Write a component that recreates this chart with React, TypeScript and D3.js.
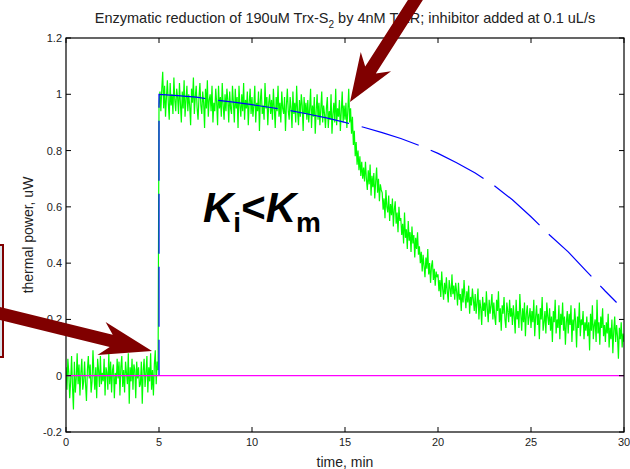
import React from 'react';
import * as d3 from 'd3';

// ---------- data ----------
const xTicks = [0, 5, 10, 15, 20, 25, 30];
const xTickLabels = ['0', '5', '10', '15', '20', '25', '30'];
const yTicks = [-0.2, 0, 0.2, 0.4, 0.6, 0.8, 1, 1.2];
const yTickLabels = ['-0.2', '0', '0.2', '0.4', '0.6', '0.8', '1', '1.2'];

// measured thermal power (uW), sampled every 0.05 min from t = 0
const sampleStep = 0.05;
const measuredPower = [
  // 0 - 1 min
  0.03, -0.05, 0.06, 0.01, -0.08, -0.02, 0.07, -0.04, -0.12, 0.05,
  -0.06, -0.01, 0.08, -0.03, 0.04, -0.07, 0.01, 0.06, -0.05, -0.02,
  // 1 - 2
  0.05, -0.03, -0.09, 0.02, 0.07, -0.01, 0.04, -0.06, -0.02, 0.09,
  0.01, -0.05, 0.03, -0.08, 0.06, 0.02, -0.04, 0.07, -0.03, 0.01,
  // 2 - 3
  -0.02, 0.06, -0.07, 0.03, 0.01, -0.05, 0.08, -0.03, 0.05, -0.06,
  0.02, 0.04, -0.08, 0.01, -0.03, 0.06, -0.01, 0.05, -0.07, 0.03,
  // 3 - 4
  0.07, -0.04, 0.02, -0.06, 0.05, 0.01, -0.03, 0.08, -0.10, 0.03,
  -0.02, 0.06, -0.05, 0.04, 0.02, -0.08, 0.05, -0.01, 0.03, -0.04,
  // 4 - 5
  -0.03, 0.05, -0.10, 0.02, 0.06, -0.04, 0.01, 0.07, -0.06, 0.03,
  -0.02, 0.08, -0.05, 0.02, -0.07, 0.04, 0.09, -0.03, 0.05, 0.02,
  // 5 - 6
  0.96, 1.01, 0.94, 1.02, 1.08, 0.95, 1.03, 0.92, 0.99, 1.05,
  0.97, 0.91, 1.04, 0.96, 1.00, 0.93, 1.06, 0.98, 0.94, 1.02,
  // 6 - 7
  0.99, 0.93, 1.04, 0.97, 0.90, 1.01, 0.95, 1.05, 0.92, 0.98,
  1.03, 0.94, 1.00, 0.96, 0.89, 1.02, 0.97, 1.06, 0.93, 0.99,
  // 7 - 8
  1.03, 0.95, 0.91, 0.99, 1.04, 0.96, 0.93, 1.01, 0.97, 0.88,
  1.02, 0.95, 1.05, 0.92, 0.98, 1.00, 0.94, 1.03, 0.90, 0.97,
  // 8 - 9
  0.94, 1.02, 0.97, 0.89, 1.03, 0.95, 0.99, 0.92, 1.04, 0.96,
  0.91, 1.00, 0.94, 1.02, 0.98, 0.90, 1.01, 0.95, 0.93, 1.03,
  // 9 - 10
  0.97, 0.90, 1.02, 0.95, 0.99, 0.88, 1.03, 0.96, 0.92, 1.00,
  0.94, 1.04, 0.91, 0.98, 0.95, 1.01, 0.89, 0.97, 1.02, 0.93,
  // 10 - 11
  0.99, 0.92, 0.96, 1.03, 0.90, 0.97, 0.94, 1.01, 0.87, 0.98,
  1.02, 0.93, 0.96, 0.91, 1.04, 0.95, 0.99, 0.89, 0.97, 1.00,
  // 11 - 12
  0.93, 0.98, 0.91, 1.02, 0.95, 0.88, 0.99, 0.94, 1.03, 0.92,
  0.97, 0.90, 1.01, 0.95, 0.93, 0.99, 0.87, 0.96, 1.02, 0.94,
  // 12 - 13
  0.91, 0.99, 0.95, 0.88, 1.01, 0.93, 0.97, 0.90, 1.03, 0.94,
  0.89, 0.98, 0.92, 1.00, 0.96, 0.87, 0.99, 0.93, 0.97, 0.91,
  // 13 - 14
  0.98, 0.90, 0.95, 1.02, 0.88, 0.96, 0.92, 0.99, 0.86, 0.94,
  1.00, 0.91, 0.97, 0.89, 0.95, 1.01, 0.90, 0.96, 0.93, 0.88,
  // 14 - 15
  0.95, 0.99, 0.88, 0.94, 0.91, 1.00, 0.86, 0.93, 0.97, 0.90,
  1.02, 0.89, 0.95, 0.92, 0.98, 0.87, 0.94, 1.01, 0.90, 0.96,
  // 15 - 16
  0.91, 0.97, 0.88, 0.94, 1.02, 0.90, 0.95, 0.86, 0.92, 0.82,
  0.87, 0.78, 0.83, 0.75, 0.80, 0.73, 0.78, 0.71, 0.76, 0.70,
  // 16 - 17
  0.74, 0.69, 0.76, 0.70, 0.66, 0.73, 0.68, 0.75, 0.64, 0.71,
  0.67, 0.72, 0.63, 0.69, 0.74, 0.65, 0.70, 0.62, 0.68, 0.66,
  // 17 - 18
  0.65, 0.59, 0.63, 0.56, 0.66, 0.60, 0.58, 0.64, 0.55, 0.61,
  0.57, 0.63, 0.53, 0.59, 0.62, 0.54, 0.58, 0.51, 0.60, 0.55,
  // 18 - 19
  0.56, 0.50, 0.54, 0.47, 0.58, 0.49, 0.52, 0.45, 0.55, 0.48,
  0.51, 0.44, 0.53, 0.47, 0.50, 0.42, 0.49, 0.45, 0.51, 0.43,
  // 19 - 20
  0.46, 0.40, 0.44, 0.37, 0.43, 0.39, 0.35, 0.42, 0.38, 0.45,
  0.36, 0.40, 0.33, 0.39, 0.41, 0.34, 0.38, 0.32, 0.37, 0.35,
  // 20 - 21
  0.36, 0.30, 0.34, 0.28, 0.37, 0.31, 0.27, 0.33, 0.29, 0.35,
  0.30, 0.26, 0.34, 0.31, 0.28, 0.36, 0.29, 0.32, 0.27, 0.33,
  // 21 - 22
  0.30, 0.25, 0.33, 0.27, 0.29, 0.23, 0.31, 0.26, 0.34, 0.28,
  0.24, 0.30, 0.26, 0.32, 0.22, 0.28, 0.25, 0.31, 0.27, 0.23,
  // 22 - 23
  0.29, 0.22, 0.26, 0.31, 0.20, 0.27, 0.24, 0.18, 0.28, 0.23,
  0.26, 0.21, 0.30, 0.24, 0.19, 0.27, 0.22, 0.25, 0.29, 0.20,
  // 23 - 24
  0.26, 0.21, 0.18, 0.27, 0.23, 0.30, 0.19, 0.24, 0.16, 0.25,
  0.22, 0.28, 0.20, 0.17, 0.26, 0.23, 0.19, 0.27, 0.21, 0.24,
  // 24 - 25
  0.18, 0.25, 0.21, 0.15, 0.27, 0.20, 0.23, 0.17, 0.29, 0.22,
  0.16, 0.24, 0.19, 0.26, 0.14, 0.22, 0.25, 0.18, 0.21, 0.24,
  // 25 - 26
  0.17, 0.23, 0.19, 0.27, 0.14, 0.21, 0.25, 0.18, 0.22, 0.13,
  0.24, 0.20, 0.28, 0.16, 0.19, 0.23, 0.15, 0.26, 0.21, 0.18,
  // 26 - 27
  0.24, 0.16, 0.21, 0.12, 0.23, 0.19, 0.27, 0.15, 0.20, 0.17,
  0.25, 0.13, 0.22, 0.18, 0.26, 0.16, 0.21, 0.11, 0.19, 0.23,
  // 27 - 28
  0.15, 0.22, 0.18, 0.25, 0.12, 0.20, 0.16, 0.24, 0.19, 0.10,
  0.21, 0.17, 0.26, 0.14, 0.20, 0.18, 0.23, 0.13, 0.19, 0.16,
  // 28 - 29
  0.21, 0.14, 0.19, 0.09, 0.22, 0.16, 0.25, 0.13, 0.18, 0.20,
  0.12, 0.27, 0.15, 0.19, 0.11, 0.21, 0.17, 0.24, 0.14, 0.18,
  // 29 - 30
  0.12, 0.19, 0.15, 0.22, 0.10, 0.17, 0.13, 0.20, 0.08, 0.16,
  0.21, 0.12, 0.18, 0.14, 0.06, 0.17, 0.13, 0.19, 0.10, 0.15,
  0.12,
];

// model (no inhibitor) curve
const modelTime = [5, 5, 6, 7, 8, 9, 10, 11, 12, 13, 14, 15, 16, 17, 18, 19, 20, 21, 22, 23, 24, 25, 26, 27, 28, 29, 29.6];
const modelPower = [0, 1.0, 0.995, 0.99, 0.98, 0.972, 0.963, 0.953, 0.943, 0.93, 0.916, 0.9, 0.883, 0.864, 0.843, 0.818, 0.79, 0.757, 0.72, 0.677, 0.625, 0.565, 0.5, 0.44, 0.37, 0.3, 0.26];

// zero reference line
const zeroTime = [0, 30];
const zeroPower = [0, 0];

// ---------- layout ----------
const W = 630;
const H = 469;
const PL = 66, PR = 624, PT = 38, PB = 432;
const FONT = "'Liberation Sans', Arial, sans-serif";
const ARROW = '#800000';

function arrowPoints(tail: [number, number], tip: [number, number], w: number, L: number, h: number, n: number) {
  const dx = tip[0] - tail[0], dy = tip[1] - tail[1];
  const len = Math.hypot(dx, dy);
  const ux = dx / len, uy = dy / len;
  const vx = -uy, vy = ux;
  const bx = tip[0] - ux * L, by = tip[1] - uy * L;
  const jx = bx + ux * n, jy = by + uy * n;
  const pts = [
    [tail[0] + vx * w, tail[1] + vy * w],
    [jx + vx * w, jy + vy * w],
    [bx + vx * h, by + vy * h],
    [tip[0], tip[1]],
    [bx - vx * h, by - vy * h],
    [jx - vx * w, jy - vy * w],
    [tail[0] - vx * w, tail[1] - vy * w],
  ];
  return pts.map((p) => p.join(',')).join(' ');
}

export default function App() {
  const x = d3.scaleLinear().domain([0, 30]).range([PL, PR]);
  const y = d3.scaleLinear().domain([-0.2, 1.2]).range([PB, PT]);

  const measLine = d3
    .line<number>()
    .x((_, i) => x(i * sampleStep))
    .y((d) => y(d));
  const pairLine = d3
    .line<[number, number]>()
    .x((d) => x(d[0]))
    .y((d) => y(d[1]));

  const modelPts = modelTime.map((t, i) => [t, modelPower[i]] as [number, number]);
  const zeroPts = zeroTime.map((t, i) => [t, zeroPower[i]] as [number, number]);

  const tickLen = 5;

  return (
    <svg width={W} height={H} style={{ position: 'absolute', left: 0, top: 0, background: '#fff' }}>
      <rect x={0} y={0} width={W} height={H} fill="#fff" />
      {/* title */}
      <text x={345} y={23} textAnchor="middle" fontFamily={FONT} fontSize={14.5} fill="#222">
        Enzymatic reduction of 190uM Trx-S
        <tspan fontSize={10} dy={5}>2</tspan>
        <tspan dy={-5}> by 4nM TrxR; inhibitor added at 0.1 uL/s</tspan>
      </text>

      <defs>
        <clipPath id="plotclip">
          <rect x={PL} y={PT} width={PR - PL} height={PB - PT} />
        </clipPath>
      </defs>

      {/* data */}
      <g clipPath="url(#plotclip)">
        <path d={measLine(measuredPower) || ''} fill="none" stroke="#00ff00" strokeWidth={1.2} />
        <path
          d={pairLine(modelPts) || ''}
          fill="none"
          stroke="#0000ff"
          strokeWidth={1.2}
          strokeDasharray="60,13"
          strokeDashoffset={24}
        />
        <path d={pairLine(zeroPts) || ''} fill="none" stroke="#ff00ff" strokeWidth={1.2} />
      </g>

      {/* axes box */}
      <rect x={PL} y={PT} width={PR - PL} height={PB - PT} fill="none" stroke="#000" strokeWidth={1.2} />
      {xTicks.map((t, i) => (
        <g key={'x' + i}>
          <line x1={x(t)} x2={x(t)} y1={PB} y2={PB - tickLen} stroke="#000" />
          <line x1={x(t)} x2={x(t)} y1={PT} y2={PT + tickLen} stroke="#000" />
          <text x={x(t)} y={446} textAnchor="middle" fontFamily={FONT} fontSize={11} fill="#222">
            {xTickLabels[i]}
          </text>
        </g>
      ))}
      {yTicks.map((t, i) => (
        <g key={'y' + i}>
          <line x1={PL} x2={PL + tickLen} y1={y(t)} y2={y(t)} stroke="#000" />
          <line x1={PR} x2={PR - tickLen} y1={y(t)} y2={y(t)} stroke="#000" />
          <text x={62} y={y(t) + 4} textAnchor="end" fontFamily={FONT} fontSize={11} fill="#222">
            {yTickLabels[i]}
          </text>
        </g>
      ))}
      <text x={345} y={467} textAnchor="middle" fontFamily={FONT} fontSize={14} fill="#222">
        time, min
      </text>
      <text
        transform={`translate(33, ${(PT + PB) / 2}) rotate(-90)`}
        textAnchor="middle"
        fontFamily={FONT}
        fontSize={14}
        fill="#222"
      >
        thermal power, uW
      </text>

      {/* annotation */}
      <text x={203} y={222} fontFamily={FONT} fontWeight="bold" fill="#000">
        <tspan fontStyle="italic" fontSize={42}>K</tspan>
        <tspan fontSize={28} dy={10}>i</tspan>
        <tspan fontSize={42} dy={-10}>&lt;</tspan>
        <tspan fontStyle="italic" fontSize={42}>K</tspan>
        <tspan fontSize={28} dy={10}>m</tspan>
      </text>

      {/* left box (mostly off-page) */}
      <rect x={-20} y={245} width={23} height={112} fill="#d9e4ea" stroke={ARROW} strokeWidth={2} />

      {/* arrows */}
      <polygon points={arrowPoints([-30, 306], [152, 351], 6.3, 52, 17, 10)} fill={ARROW} />
      <polygon points={arrowPoints([425, -15], [350, 102], 6.3, 48, 18, 10)} fill={ARROW} />
    </svg>
  );
}
